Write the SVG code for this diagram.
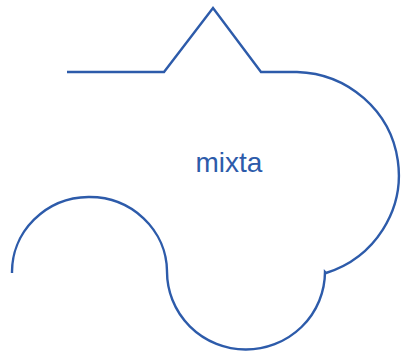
<svg xmlns="http://www.w3.org/2000/svg" width="402" height="353" viewBox="0 0 402 353">
<style>
.shape{fill:none;stroke:#2D5BAA;stroke-width:2.4;stroke-linejoin:miter}
.lbl{font-family:"Liberation Sans",Arial,sans-serif;font-size:28px;fill:#2D5BAA;text-anchor:middle}
</style>
<rect width="402" height="353" fill="#ffffff"/>
<g id="shape-mixta">
<path class="shape" d="M67,72 H164 L213,8 L261,72 H297 A105,103 0 0 1 326,273 L325,272 A79,78 0 0 1 167,271 A77.5,75 0 0 0 12,273"/>
<text class="lbl" x="229" y="172">mixta</text>
</g>
<g id="connectors"></g>
</svg>
